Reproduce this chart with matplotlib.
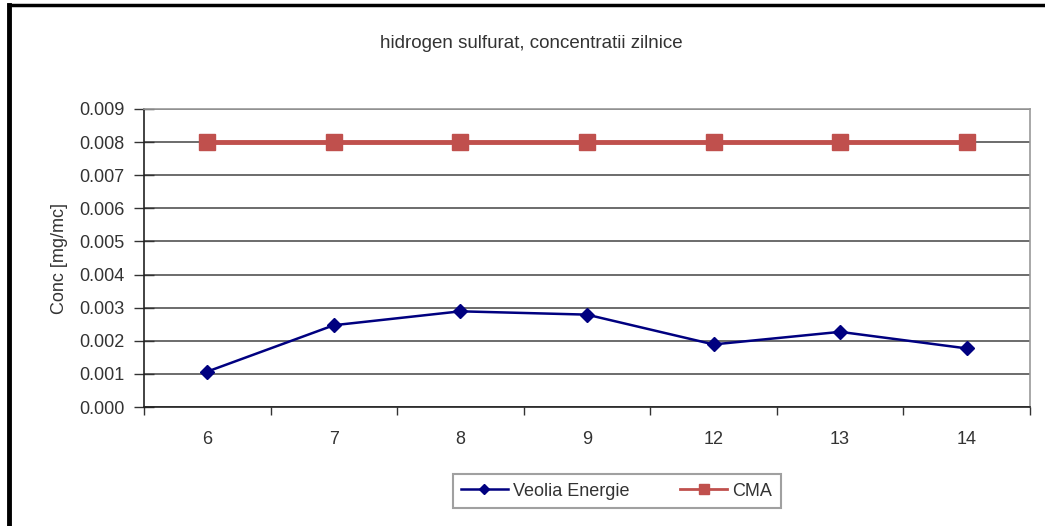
import matplotlib
matplotlib.use("Agg")
import matplotlib.pyplot as plt
from matplotlib.lines import Line2D
import numpy as np

plt.rcParams['font.family'] = ['Liberation Sans', 'DejaVu Sans']

categories = ["6", "7", "8", "9", "12", "13", "14"]
veolia = [0.00107, 0.00247, 0.00289, 0.00279, 0.00189, 0.00227, 0.00177]
cma = [0.008, 0.008, 0.008, 0.008, 0.008, 0.008, 0.008]
yticks = [0.000, 0.001, 0.002, 0.003, 0.004, 0.005, 0.006, 0.007, 0.008, 0.009]

blue = "#000080"
red = "#C0504D"
txt = "#333333"

fig = plt.figure(figsize=(10.45, 5.26), dpi=100)
ax = fig.add_axes([0.1378, 0.2262, 0.8478, 0.5666])

x = np.arange(len(categories))
ax.plot(x, veolia, color=blue, lw=1.8, marker="D", ms=7, label="Veolia Energie", zorder=4)
ax.plot(x, cma, color=red, lw=3.5, marker="s", ms=11, label="CMA", zorder=3)

ax.set_xlim(-0.5, len(categories) - 0.5)
ax.set_ylim(0, 0.009)
ax.set_yticks(yticks)
ax.set_yticklabels([f"{v:.3f}" for v in yticks], fontsize=13, color=txt)
ax.set_xticks(x)
ax.set_xticklabels(categories, fontsize=13, color=txt)
ax.set_xticks(np.arange(-0.5, len(categories)), minor=True)
ax.tick_params(axis="x", which="major", length=0, pad=17)
ax.tick_params(axis="x", which="minor", direction="out", length=6, width=1, color="#333333")
ax.tick_params(axis="y", which="major", direction="inout", length=14, width=1, color="#333333", pad=7)

ax.grid(axis="y", color="#444444", lw=1.1)
ax.set_axisbelow(True)
for s in ["left", "bottom"]:
    ax.spines[s].set_color("#222222")
    ax.spines[s].set_linewidth(1.2)
for s in ["top", "right"]:
    ax.spines[s].set_color("#999999")
    ax.spines[s].set_linewidth(1.2)

ax.set_ylabel("Conc [mg/mc]", fontsize=13, color=txt, labelpad=8)
fig.text(0.508, 0.918, "hidrogen sulfurat, concentratii zilnice", ha="center", va="center",
         fontsize=13.5, color=txt)

handles = [Line2D([], [], color=blue, lw=1.8, marker="D", ms=5),
           Line2D([], [], color=red, lw=2, marker="s", ms=7)]
leg = fig.legend(handles, ["Veolia Energie", "CMA"], loc="center", bbox_to_anchor=(0.59, 0.0665),
                 ncol=2, fontsize=13, labelcolor=txt,
                 frameon=True, fancybox=False, edgecolor="#888888", handlelength=2.6,
                 columnspacing=2.8, borderpad=0.45, handletextpad=0.3, borderaxespad=0)
leg.get_frame().set_linewidth(1.5)

# outer chart frame
fig.add_artist(Line2D([0.0086, 0.0086], [0, 0.99], transform=fig.transFigure, color="black", lw=3.5))
fig.add_artist(Line2D([0.0086, 1.0], [0.99, 0.99], transform=fig.transFigure, color="black", lw=2.5))

fig.savefig("out.png", dpi=100)
